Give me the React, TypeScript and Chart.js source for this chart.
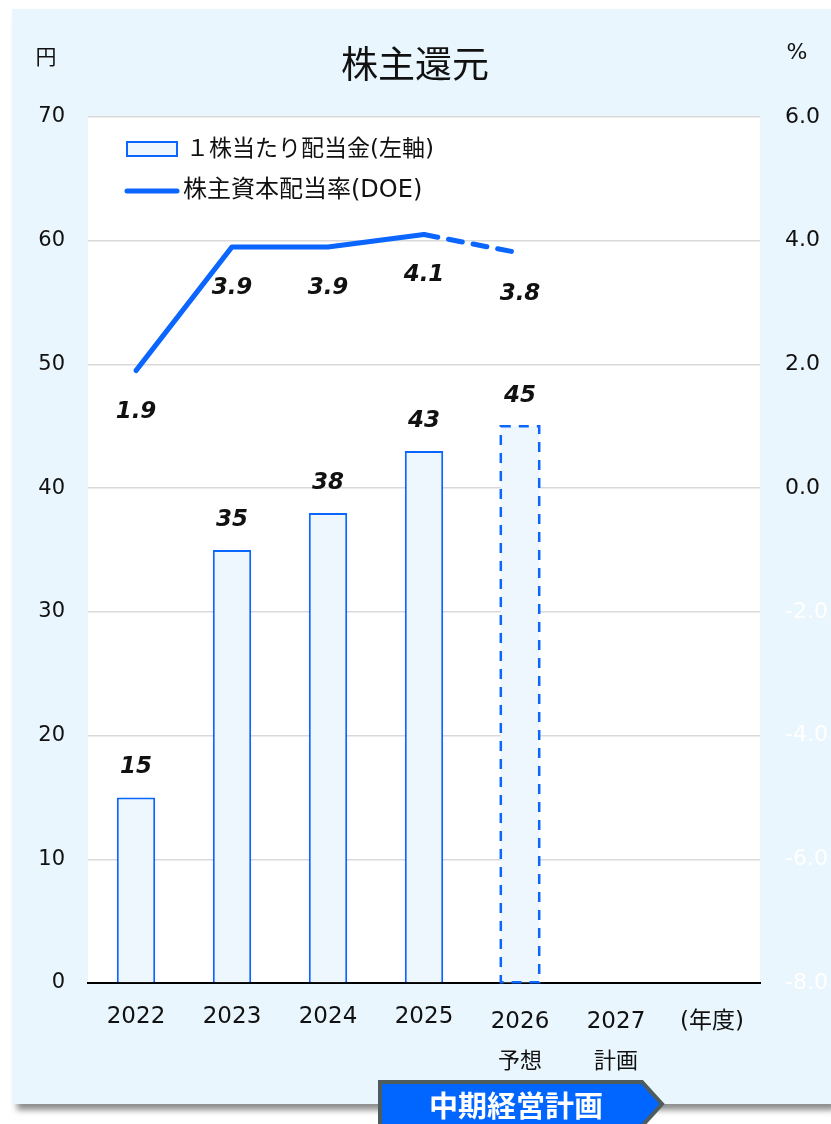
import React, { useEffect, useRef } from 'react';
import { Chart, registerables } from 'chart.js';

Chart.register(...registerables);

const categories = ['2022', '2023', '2024', '2025', '2026', '2027', '(年度)'];
const subLabels = ['', '', '', '', '予想', '計画', ''];
const dividendPerShare = [15, 35, 38, 43, 45, null, null];
const doeRate = [1.9, 3.9, 3.9, 4.1, 3.8, null, null];
const forecastIndex = 4;
const dividendLabel = '１株当たり配当金(左軸)';
const doeLabel = '株主資本配当率(DOE)';
const titleText = '株主還元';
const leftUnit = '円';
const rightUnit = '%';
const bannerText = '中期経営計画';

const BLUE = '#0a66ff';
const BAR_FILL = '#eef6fe';
const PANEL = '#e9f6fd';
const LATIN = '"DejaVu Sans", "Noto Sans CJK JP", sans-serif';
const CJK = '"Noto Sans CJK JP", "DejaVu Sans", sans-serif';

const decorPlugin = {
  id: 'decor',
  beforeDraw(chart: any) {
    const { ctx, width, height, chartArea } = chart;
    ctx.save();
    ctx.fillStyle = '#ffffff';
    ctx.fillRect(0, 0, width, height);
    ctx.shadowColor = 'rgba(0,0,0,0.45)';
    ctx.shadowBlur = 6;
    ctx.shadowOffsetX = 5;
    ctx.shadowOffsetY = 6;
    ctx.fillStyle = PANEL;
    ctx.fillRect(12, 9, width - 12, 1104 - 9);
    ctx.shadowColor = 'transparent';
    ctx.fillStyle = '#ffffff';
    ctx.fillRect(chartArea.left, chartArea.top, chartArea.right - chartArea.left, chartArea.bottom - chartArea.top);
    ctx.restore();
  },
  afterDatasetsDraw(chart: any) {
    const { ctx, chartArea, scales } = chart;
    const barMeta = chart.getDatasetMeta(0);
    const lineMeta = chart.getDatasetMeta(1);
    ctx.save();

    // dashed forecast bar border
    const fb = barMeta.data[forecastIndex];
    if (fb) {
      const p = fb.getProps(['x', 'y', 'base', 'width'], true);
      ctx.strokeStyle = BLUE;
      ctx.lineWidth = 2.5;
      ctx.setLineDash([10, 8]);
      ctx.strokeRect(p.x - p.width / 2, p.y, p.width, p.base - p.y);
      ctx.setLineDash([]);
    }

    // data labels
    ctx.fillStyle = '#111';
    ctx.font = `italic bold 23px ${LATIN}`;
    ctx.textAlign = 'center';
    ctx.textBaseline = 'middle';
    barMeta.data.forEach((el: any, i: number) => {
      const v = dividendPerShare[i];
      if (v == null) return;
      ctx.fillText(String(v), el.x, el.y - 30);
    });
    lineMeta.data.forEach((el: any, i: number) => {
      const v = doeRate[i];
      if (v == null) return;
      ctx.fillText(v.toFixed(1), el.x, el.y + 41);
    });

    // legend
    const lx = chartArea.left + 39;
    ctx.fillStyle = BAR_FILL;
    ctx.strokeStyle = BLUE;
    ctx.lineWidth = 2;
    ctx.fillRect(lx, 142, 50, 14);
    ctx.strokeRect(lx, 142, 50, 14);
    ctx.beginPath();
    ctx.lineCap = 'round';
    ctx.lineWidth = 5;
    ctx.moveTo(lx, 191);
    ctx.lineTo(lx + 50, 191);
    ctx.stroke();
    ctx.fillStyle = '#111';
    ctx.textAlign = 'left';
    ctx.font = `23px ${LATIN}`;
    ctx.fillText(dividendLabel, lx + 59, 150);
    ctx.font = `24px ${LATIN}`;
    ctx.fillText(doeLabel, lx + 56, 191);

    // title & units
    ctx.textAlign = 'center';
    ctx.font = `37px ${CJK}`;
    ctx.fillText(titleText, 415, 64);
    ctx.font = `21px ${CJK}`;
    ctx.fillText(leftUnit, 46, 56);
    ctx.font = `22px ${LATIN}`;
    ctx.fillText(rightUnit, 797, 53);

    // x labels
    const xs = scales.x;
    ctx.font = `23px ${LATIN}`;
    categories.forEach((c, i) => {
      const x = xs.getPixelForValue(i);
      const y = chartArea.bottom + (i >= forecastIndex ? 39 : 34);
      ctx.fillText(c, x, y);
      if (subLabels[i]) {
        ctx.font = `22px ${CJK}`;
        ctx.fillText(subLabels[i], x, chartArea.bottom + 77);
        ctx.font = `23px ${LATIN}`;
      }
    });

    // banner
    ctx.beginPath();
    ctx.moveTo(380, 1082);
    ctx.lineTo(642, 1082);
    ctx.lineTo(662, 1104);
    ctx.lineTo(642, 1126);
    ctx.lineTo(380, 1126);
    ctx.closePath();
    ctx.fillStyle = '#0066ff';
    ctx.fill();
    ctx.lineJoin = 'miter';
    ctx.lineWidth = 4;
    ctx.strokeStyle = '#4f5c5e';
    ctx.stroke();
    ctx.fillStyle = '#ffffff';
    ctx.font = `bold 29px ${CJK}`;
    ctx.fillText(bannerText, 516, 1106);

    ctx.restore();
  },
};

function zeroPad(scale: any) {
  scale.paddingTop = 0;
  scale.paddingBottom = 0;
  scale.paddingLeft = 0;
  scale.paddingRight = 0;
}

export default function App() {
  const ref = useRef<HTMLCanvasElement>(null);
  useEffect(() => {
    document.body.style.margin = '0';
    document.documentElement.style.overflow = 'hidden';
    const chart = new Chart(ref.current as HTMLCanvasElement, {
      type: 'bar',
      data: {
        labels: categories,
        datasets: [
          {
            type: 'bar',
            label: dividendLabel,
            data: dividendPerShare as any,
            yAxisID: 'y',
            backgroundColor: BAR_FILL,
            borderColor: BLUE,
            borderWidth: (c: any) => (c.dataIndex === forecastIndex ? 0 : 2),
            barPercentage: 0.4,
            categoryPercentage: 1,
            order: 2,
          },
          {
            type: 'line',
            label: doeLabel,
            data: doeRate as any,
            yAxisID: 'y1',
            borderColor: BLUE,
            borderWidth: 5,
            borderCapStyle: 'round',
            borderJoinStyle: 'round',
            pointRadius: 0,
            tension: 0,
            spanGaps: false,
            order: 1,
            segment: {
              borderDash: (c: any) => (c.p0DataIndex >= forecastIndex - 1 ? [14, 11] : undefined),
            },
          } as any,
        ],
      },
      options: {
        responsive: true,
        maintainAspectRatio: false,
        animation: false,
        layout: { padding: { top: 117, left: 0, right: 0, bottom: 0 } },
        plugins: { legend: { display: false }, tooltip: { enabled: false }, title: { display: false } },
        scales: {
          x: {
            grid: { display: false },
            border: { display: true, color: '#000', width: 2 },
            ticks: { display: false },
            afterFit: (s: any) => {
              s.height = 141;
              zeroPad(s);
            },
          },
          y: {
            position: 'left',
            min: 0,
            max: 70,
            ticks: { stepSize: 10, padding: 23, color: '#111', font: { family: LATIN, size: 21 } },
            grid: { color: '#d9d9d9', lineWidth: 1.5, drawTicks: false },
            border: { display: false },
            afterFit: (s: any) => {
              s.width = 88;
              zeroPad(s);
            },
          },
          y1: {
            position: 'right',
            min: -8,
            max: 6,
            ticks: {
              stepSize: 2,
              padding: 25,
              font: { family: LATIN, size: 22 },
              color: (c: any) => (c.tick && c.tick.value < 0 ? '#ffffff' : '#111'),
              callback: (v: any) => Number(v).toFixed(1),
            },
            grid: { display: false, drawTicks: false },
            border: { display: false },
            afterFit: (s: any) => {
              s.width = 71;
              zeroPad(s);
            },
          },
        },
      },
      plugins: [decorPlugin],
    });
    return () => chart.destroy();
  }, []);
  return (
    <div style={{ width: 831, height: 1124, position: 'relative' }}>
      <canvas ref={ref} />
    </div>
  );
}
